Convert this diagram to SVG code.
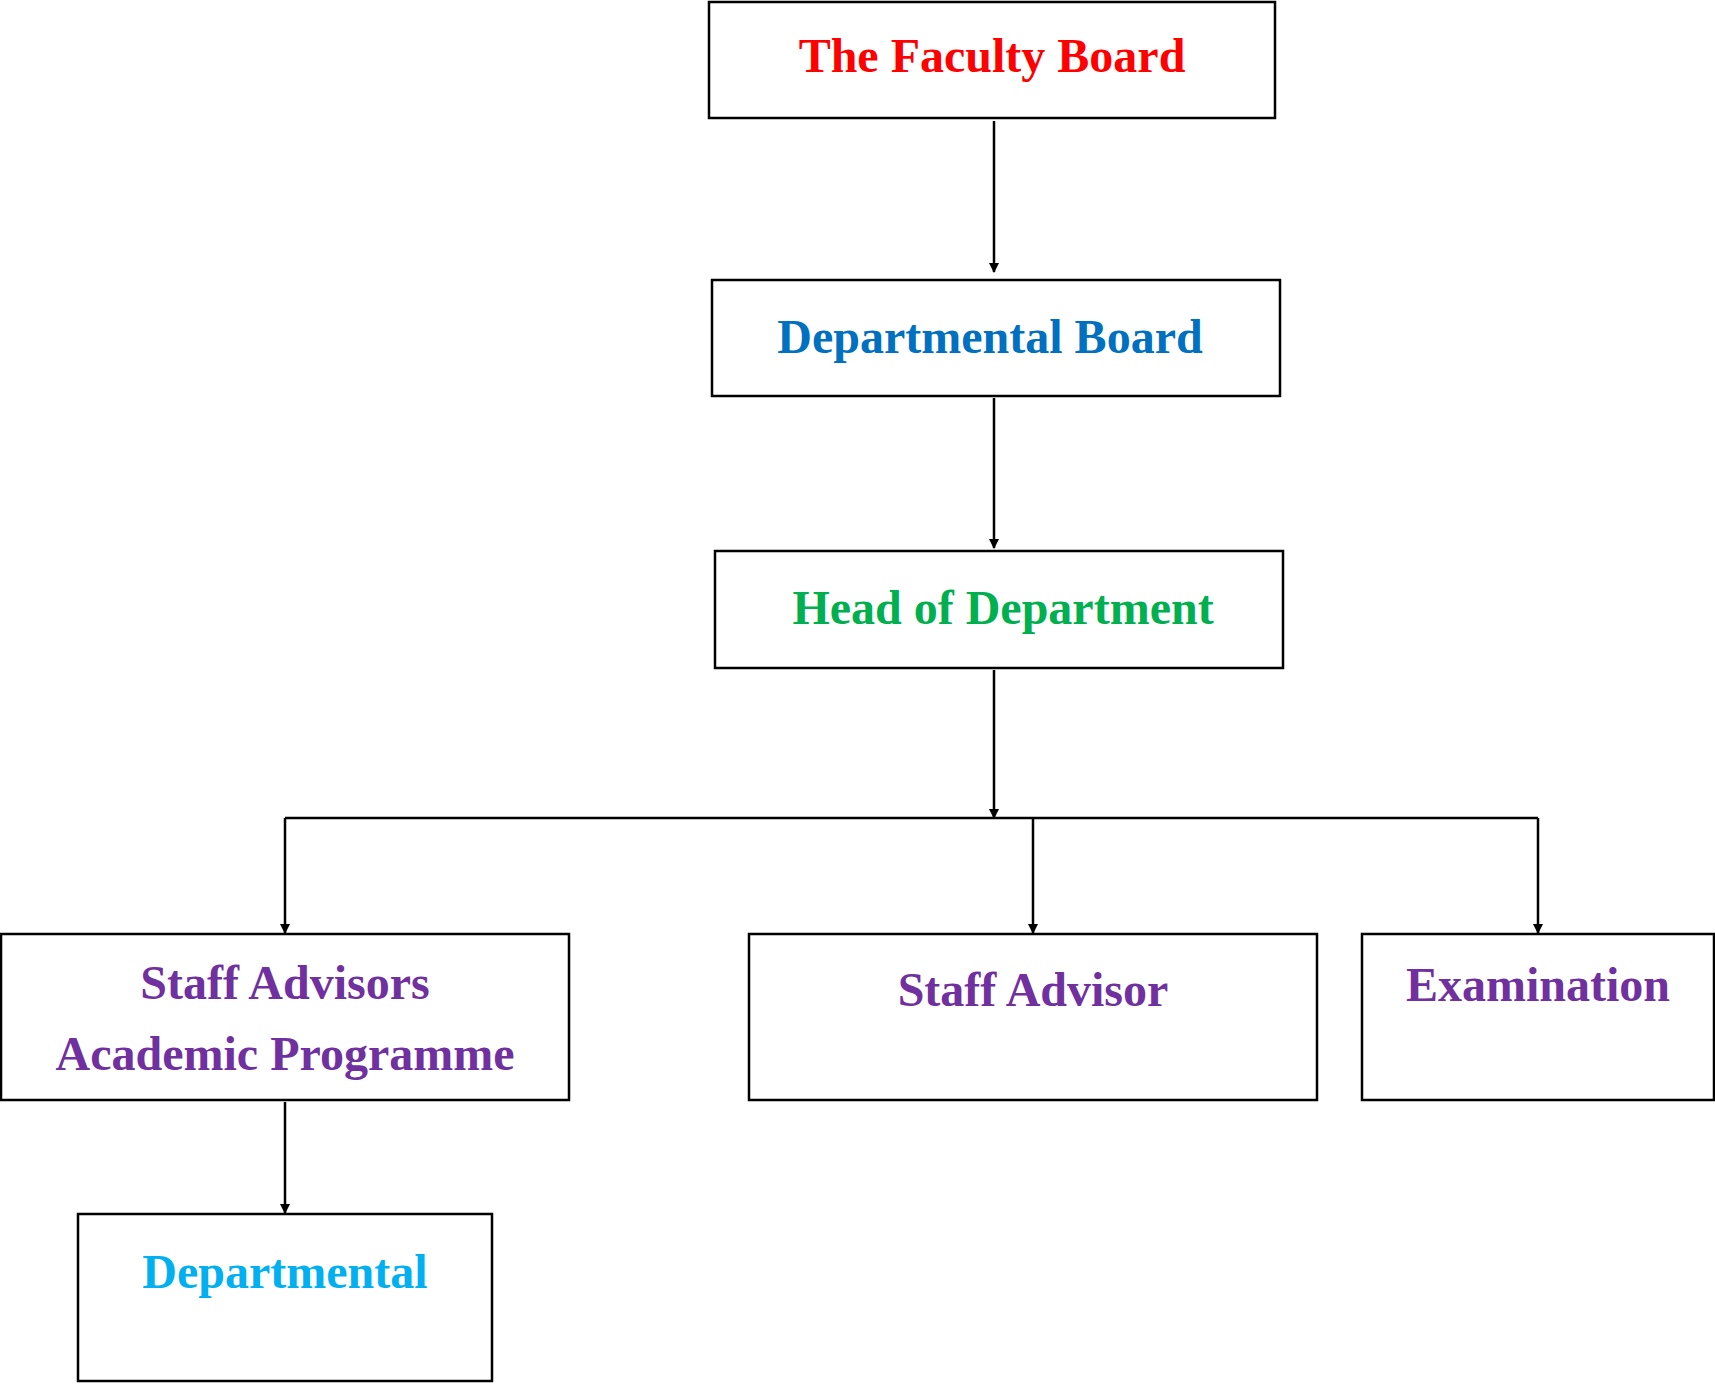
<svg xmlns="http://www.w3.org/2000/svg" width="1715" height="1384" viewBox="0 0 1715 1384">
<style>
rect{fill:#fff;stroke:#000;stroke-width:2.5}
text{font-family:"Liberation Serif",serif;font-weight:bold;font-size:48px;text-anchor:middle}
.c line{stroke:#000;stroke-width:2.5}
</style>
<defs><marker id="a" markerWidth="10" markerHeight="10" refX="9" refY="5" orient="auto" markerUnits="userSpaceOnUse" viewBox="0 0 10 10"><path d="M0,0L10,5L0,10z"/></marker></defs>
<rect width="1715" height="1384" style="stroke:none"/>
<g id="faculty"><rect x="709" y="2" width="566" height="116"/><text x="992" y="72" fill="#FF0000">The Faculty Board</text></g>
<g id="deptboard"><rect x="712" y="280" width="568" height="116"/><text x="990" y="353" fill="#0070C0">Departmental Board</text></g>
<g id="head"><rect x="715" y="551" width="568" height="117"/><text x="1003" y="624" fill="#00B050">Head of Department</text></g>
<g id="staffadvisors"><rect x="1" y="934" width="568" height="166"/><text x="285" y="999" fill="#7030A0">Staff Advisors</text><text x="285" y="1070" fill="#7030A0">Academic Programme</text></g>
<g id="staffadvisor"><rect x="749" y="934" width="568" height="166"/><text x="1033" y="1006" fill="#7030A0">Staff Advisor</text></g>
<g id="exam"><rect x="1362" y="934" width="352" height="166"/><text x="1538" y="1001" fill="#7030A0">Examination</text></g>
<g id="departmental"><rect x="78" y="1214" width="414" height="167"/><text x="285" y="1288" fill="#00B0F0">Departmental</text></g>
<g class="c">
<line x1="994" y1="121" x2="994" y2="272" marker-end="url(#a)"/>
<line x1="994" y1="398" x2="994" y2="548" marker-end="url(#a)"/>
<line x1="994" y1="670" x2="994" y2="818" marker-end="url(#a)"/>
<line x1="285" y1="818" x2="1538" y2="818"/>
<line x1="285" y1="818" x2="285" y2="933" marker-end="url(#a)"/>
<line x1="1033" y1="818" x2="1033" y2="933" marker-end="url(#a)"/>
<line x1="1538" y1="818" x2="1538" y2="933" marker-end="url(#a)"/>
<line x1="285" y1="1102" x2="285" y2="1213" marker-end="url(#a)"/>
</g>
</svg>
